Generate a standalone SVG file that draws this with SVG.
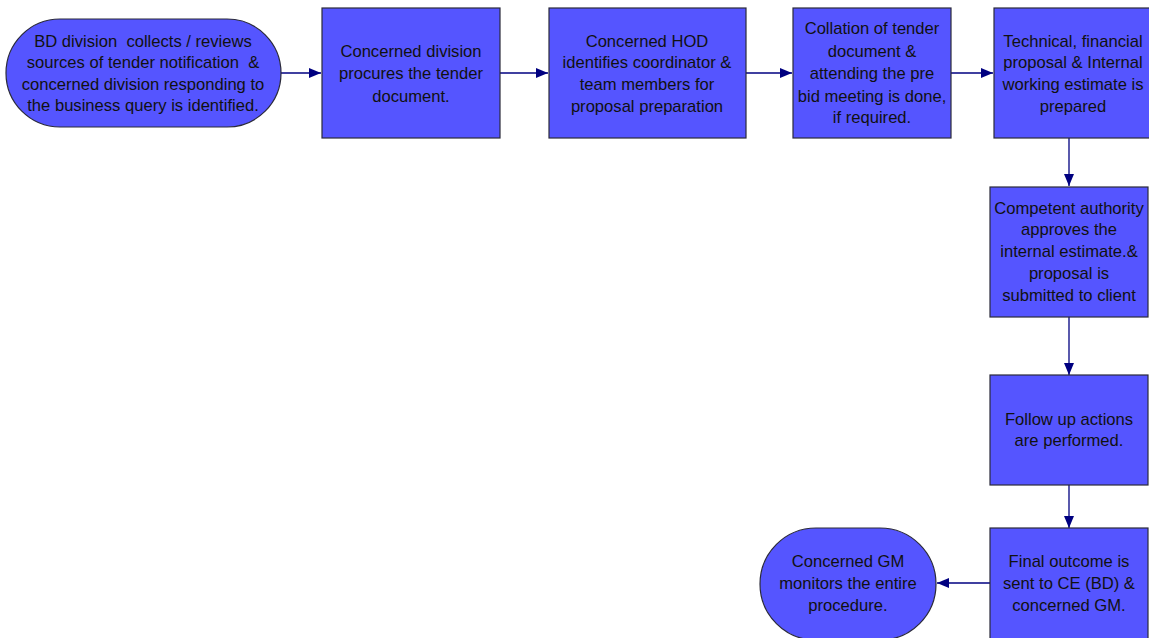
<svg xmlns="http://www.w3.org/2000/svg" width="1149" height="638" viewBox="0 0 1149 638">
<style>
.n{fill:#5555ff;stroke:#2a2a3a;stroke-width:1.2}
.t{font-family:"Liberation Sans",Arial,sans-serif;font-size:16.6px;fill:#111;text-anchor:middle;white-space:pre}
.c{stroke:#000080;stroke-width:1.3;fill:none;marker-end:url(#a)}
</style>
<defs>
<marker id="a" viewBox="0 0 12 10" refX="12" refY="5" markerWidth="12" markerHeight="10" markerUnits="userSpaceOnUse" orient="auto">
<path d="M0,0 L12,5 L0,10 Z" fill="#000080"/>
</marker>
</defs>
<rect width="1149" height="638" fill="#fff"/>
<g id="connectors">
<line class="c" x1="281" y1="73" x2="321" y2="73"/>
<line class="c" x1="500" y1="73" x2="548" y2="73"/>
<line class="c" x1="746" y1="73" x2="792" y2="73"/>
<line class="c" x1="951" y1="73" x2="993" y2="73"/>
<line class="c" x1="1069" y1="138" x2="1069" y2="186"/>
<line class="c" x1="1069" y1="317" x2="1069" y2="375"/>
<line class="c" x1="1069" y1="485" x2="1069" y2="528"/>
<line class="c" x1="990" y1="583" x2="937" y2="583"/>
</g>
<g id="n1">
<rect class="n" x="6" y="19" width="275" height="108" rx="54" ry="54"/>
<text class="t" xml:space="preserve"><tspan x="143" y="47">BD division  collects / reviews</tspan><tspan x="143" y="68">sources of tender notification  &amp;</tspan><tspan x="143" y="90">concerned division responding to</tspan><tspan x="143" y="111">the business query is identified.</tspan></text>
</g>
<g id="n2">
<rect class="n" x="322" y="8" width="178" height="130"/>
<text class="t"><tspan x="411" y="57">Concerned division</tspan><tspan x="411" y="79">procures the tender</tspan><tspan x="411" y="102">document.</tspan></text>
</g>
<g id="n3">
<rect class="n" x="549" y="8" width="197" height="130"/>
<text class="t"><tspan x="647" y="47">Concerned HOD</tspan><tspan x="647" y="68">identifies coordinator &amp;</tspan><tspan x="647" y="90">team members for</tspan><tspan x="647" y="112">proposal preparation</tspan></text>
</g>
<g id="n4">
<rect class="n" x="793" y="8" width="158" height="130"/>
<text class="t"><tspan x="872" y="34">Collation of tender</tspan><tspan x="872" y="57">document &amp;</tspan><tspan x="872" y="79">attending the pre</tspan><tspan x="872" y="102">bid meeting is done,</tspan><tspan x="872" y="123">if required.</tspan></text>
</g>
<g id="n5">
<rect class="n" x="994" y="8" width="160" height="130"/>
<text class="t"><tspan x="1073" y="47">Technical, financial</tspan><tspan x="1073" y="68">proposal &amp; Internal</tspan><tspan x="1073" y="90">working estimate is</tspan><tspan x="1073" y="112">prepared</tspan></text>
</g>
<g id="n6">
<rect class="n" x="990" y="187" width="158" height="130"/>
<text class="t"><tspan x="1069" y="214">Competent authority</tspan><tspan x="1069" y="235">approves the</tspan><tspan x="1069" y="257">internal estimate.&amp;</tspan><tspan x="1069" y="279">proposal is</tspan><tspan x="1069" y="301">submitted to client</tspan></text>
</g>
<g id="n7">
<rect class="n" x="990" y="375" width="158" height="110"/>
<text class="t"><tspan x="1069" y="425">Follow up actions</tspan><tspan x="1069" y="446">are performed.</tspan></text>
</g>
<g id="n8">
<rect class="n" x="990" y="528" width="158" height="112"/>
<text class="t"><tspan x="1069" y="567">Final outcome is</tspan><tspan x="1069" y="589">sent to CE (BD) &amp;</tspan><tspan x="1069" y="611">concerned GM.</tspan></text>
</g>
<g id="n9">
<rect class="n" x="760" y="528" width="176" height="112" rx="56" ry="56"/>
<text class="t"><tspan x="848" y="567">Concerned GM</tspan><tspan x="848" y="589">monitors the entire</tspan><tspan x="848" y="611">procedure.</tspan></text>
</g>
</svg>
